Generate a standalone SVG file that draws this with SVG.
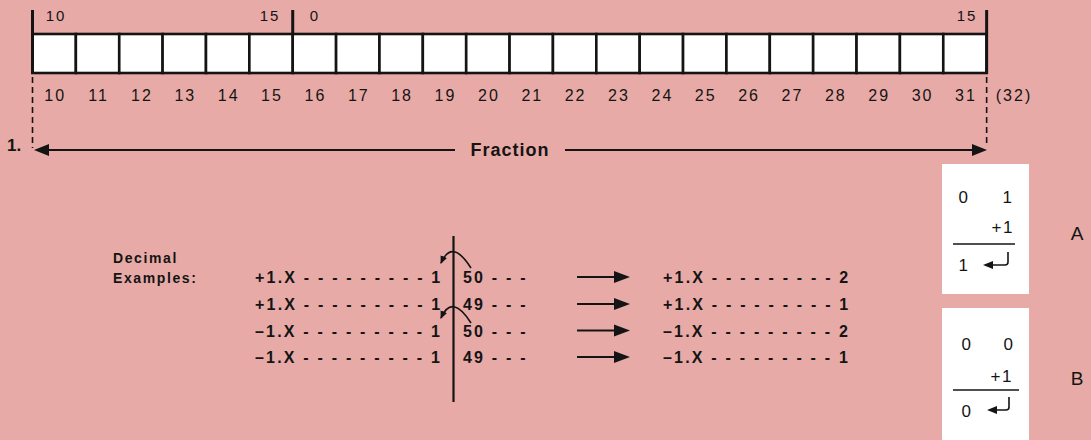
<svg xmlns="http://www.w3.org/2000/svg" width="1091" height="440" viewBox="0 0 1091 440">
<defs>
<style>
.bg{fill:#e7aaa6}
.cell{fill:#ffffff;stroke:#141414;stroke-width:2.6}
.tick{stroke:#141414;stroke-width:3;fill:none}
.dash{stroke:#141414;stroke-width:1.6;stroke-dasharray:6,4;fill:none}
.ln{stroke:#141414;stroke-width:2.2;fill:none}
.thin{stroke:#141414;stroke-width:1.6;fill:none}
.head{fill:#141414}
.num{font-family:"Liberation Sans",Arial,sans-serif;font-size:16px;fill:#141414;letter-spacing:2px}
.top{font-family:"Liberation Sans",Arial,sans-serif;font-size:15px;fill:#141414;letter-spacing:2px}
.bold{font-family:"Liberation Sans",Arial,sans-serif;font-weight:bold;fill:#141414}
.row{font-family:"Liberation Sans",Arial,sans-serif;font-weight:bold;font-size:16px;fill:#141414;letter-spacing:2.2px}
.box{fill:#ffffff}
.bx{font-family:"Liberation Sans",Arial,sans-serif;font-size:17px;fill:#141414;letter-spacing:1.5px}
.lab{font-family:"Liberation Sans",Arial,sans-serif;font-size:19px;fill:#141414}
</style>
<marker id="ah" markerWidth="8" markerHeight="7" refX="7" refY="3.5" orient="auto" markerUnits="userSpaceOnUse">
<path d="M0,0 L8,3.5 L0,7 z" fill="#141414"/>
</marker>
</defs>
<rect class="bg" x="0" y="0" width="1091" height="440"/>

<g id="register">
<rect class="cell" x="32.5" y="34" width="43.37" height="39"/>
<rect class="cell" x="75.87" y="34" width="43.37" height="39"/>
<rect class="cell" x="119.24" y="34" width="43.37" height="39"/>
<rect class="cell" x="162.61" y="34" width="43.37" height="39"/>
<rect class="cell" x="205.98" y="34" width="43.37" height="39"/>
<rect class="cell" x="249.35" y="34" width="43.37" height="39"/>
<rect class="cell" x="292.72" y="34" width="43.37" height="39"/>
<rect class="cell" x="336.09" y="34" width="43.37" height="39"/>
<rect class="cell" x="379.46" y="34" width="43.37" height="39"/>
<rect class="cell" x="422.83" y="34" width="43.37" height="39"/>
<rect class="cell" x="466.2" y="34" width="43.37" height="39"/>
<rect class="cell" x="509.57" y="34" width="43.37" height="39"/>
<rect class="cell" x="552.94" y="34" width="43.37" height="39"/>
<rect class="cell" x="596.31" y="34" width="43.37" height="39"/>
<rect class="cell" x="639.68" y="34" width="43.37" height="39"/>
<rect class="cell" x="683.05" y="34" width="43.37" height="39"/>
<rect class="cell" x="726.42" y="34" width="43.37" height="39"/>
<rect class="cell" x="769.79" y="34" width="43.37" height="39"/>
<rect class="cell" x="813.16" y="34" width="43.37" height="39"/>
<rect class="cell" x="856.53" y="34" width="43.37" height="39"/>
<rect class="cell" x="899.9" y="34" width="43.37" height="39"/>
<rect class="cell" x="943.27" y="34" width="43.37" height="39"/>
<path class="tick" d="M32.5 10 V74 M292.72 10 V35 M986.64 10 V74"/>
<text class="top" x="56" y="21" text-anchor="middle">10</text>
<text class="top" x="270" y="21" text-anchor="middle">15</text>
<text class="top" x="315" y="21" text-anchor="middle">0</text>
<text class="top" x="967" y="21" text-anchor="middle">15</text>
</g>

<g id="bit-numbers" class="num" text-anchor="middle">
<text x="55.2" y="101">10</text>
<text x="98.5" y="101">11</text>
<text x="141.9" y="101">12</text>
<text x="185.3" y="101">13</text>
<text x="228.7" y="101">14</text>
<text x="272" y="101">15</text>
<text x="315.4" y="101">16</text>
<text x="358.8" y="101">17</text>
<text x="402.1" y="101">18</text>
<text x="445.5" y="101">19</text>
<text x="488.9" y="101">20</text>
<text x="532.3" y="101">21</text>
<text x="575.6" y="101">22</text>
<text x="619" y="101">23</text>
<text x="662.4" y="101">24</text>
<text x="705.7" y="101">25</text>
<text x="749.1" y="101">26</text>
<text x="792.5" y="101">27</text>
<text x="835.8" y="101">28</text>
<text x="879.2" y="101">29</text>
<text x="922.6" y="101">30</text>
<text x="966" y="101">31</text>
<text x="1014" y="101">(32)</text>
</g>

<g id="fraction">
<path class="dash" d="M32.5 77 V148 M986.64 77 V146"/>
<path class="ln" d="M46 150 H455 M565 150 H974"/>
<polygon class="head" points="34,150 49,144 49,156"/>
<polygon class="head" points="987,150 972,144 972,156"/>
<text class="bold" x="510" y="156" font-size="18" text-anchor="middle" letter-spacing="1">Fraction</text>
<text class="bold" x="7" y="151" font-size="17">1.</text>
</g>

<g id="decimal-examples">
<text class="bold" x="113" y="263" font-size="14" letter-spacing="1.6">Decimal</text>
<text class="bold" x="113" y="283" font-size="14" letter-spacing="1.6">Examples:</text>
<path class="ln" d="M453.5 236 V402" stroke-width="2.5"/>
<text class="row" x="255" y="283">+1.X - - - - - - - - - 1</text>
<text class="row" x="255" y="310">+1.X - - - - - - - - - 1</text>
<text class="row" x="255" y="336.5">–1.X - - - - - - - - - 1</text>
<text class="row" x="255" y="363">–1.X - - - - - - - - - 1</text>
<text class="row" x="463" y="283">50 - - -</text>
<text class="row" x="463" y="310">49 - - -</text>
<text class="row" x="463" y="336.5">50 - - -</text>
<text class="row" x="463" y="363">49 - - -</text>
<text class="row" x="663" y="283">+1.X - - - - - - - - - 2</text>
<text class="row" x="663" y="310">+1.X - - - - - - - - - 1</text>
<text class="row" x="663" y="336.5">–1.X - - - - - - - - - 2</text>
<text class="row" x="663" y="363">–1.X - - - - - - - - - 1</text>
</g>

<g id="connectors">
<path class="thin" d="M471 268 Q452 238 441 263" marker-end="url(#ah)"/>
<path class="thin" d="M471 323 Q452 293 441 318" marker-end="url(#ah)"/>
<path class="ln" d="M577 277 H616"/>
<polygon class="head" points="630,277 614,271 614,283"/>
<path class="ln" d="M577 304 H616"/>
<polygon class="head" points="630,304 614,298 614,310"/>
<path class="ln" d="M577 330.5 H616"/>
<polygon class="head" points="630,330.5 614,324.5 614,336.5"/>
<path class="ln" d="M577 357 H616"/>
<polygon class="head" points="630,357 614,351 614,363"/>
</g>

<g id="box-a">
<rect class="box" x="942" y="164" width="87" height="130"/>
<text class="bx" x="964" y="203" text-anchor="middle">0</text>
<text class="bx" x="1008" y="203" text-anchor="middle">1</text>
<text class="bx" x="1014" y="233" text-anchor="end">+1</text>
<path class="thin" d="M953 244 H1015"/>
<text class="bx" x="964" y="271" text-anchor="middle">1</text>
<path class="thin" d="M1008 252 V262 Q1008 265 1005 265 H991"/>
<polygon class="head" points="983,265 993,261 993,269"/>
<text class="lab" x="1077" y="240" text-anchor="middle">A</text>
</g>

<g id="box-b">
<rect class="box" x="942" y="308" width="87" height="132"/>
<text class="bx" x="967" y="350" text-anchor="middle">0</text>
<text class="bx" x="1009" y="350" text-anchor="middle">0</text>
<text class="bx" x="1013" y="382" text-anchor="end">+1</text>
<path class="thin" d="M953 390 H1019"/>
<text class="bx" x="967" y="417" text-anchor="middle">0</text>
<path class="thin" d="M1009 397 V407 Q1009 410 1006 410 H995"/>
<polygon class="head" points="987,410 997,406 997,414"/>
<text class="lab" x="1077" y="385" text-anchor="middle">B</text>
</g>
</svg>
